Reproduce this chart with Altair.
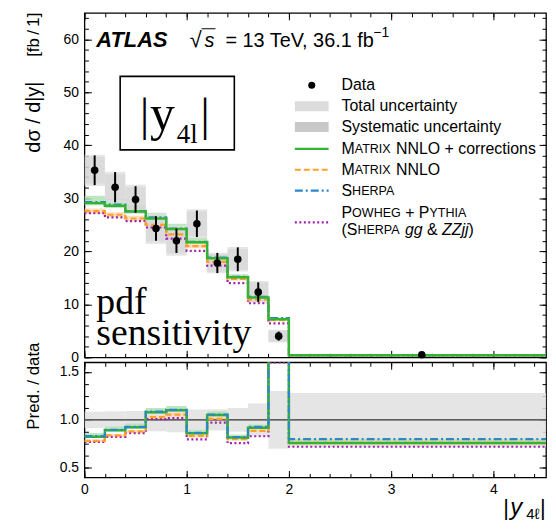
import altair as alt
import pandas as pd

SANS = "Liberation Sans, Arial, Helvetica, sans-serif"
SERIF = "Liberation Serif, Times New Roman, serif"

# ---------------- data ----------------
bin_lo = [0.0, 0.2, 0.4, 0.6, 0.8, 1.0, 1.2, 1.4, 1.6, 1.8, 2.0]
bin_hi = [0.2, 0.4, 0.6, 0.8, 1.0, 1.2, 1.4, 1.6, 1.8, 2.0, 4.6]
data_val = [35.3, 32.1, 29.8, 24.3, 22.0, 25.2, 17.8, 18.5, 12.3, 4.0, 0.5]
data_err = [2.8, 2.85, 2.5, 2.3, 2.3, 2.5, 1.9, 2.25, 1.85, 0.85, 0.08]
data_tot = [2.95, 2.9, 2.75, 2.9, 2.85, 2.75, 1.95, 2.3, 2.1, 1.2, 0.14]
data_syst = [2.5, 2.45, 2.3, 2.45, 2.4, 2.3, 1.65, 1.95, 1.8, 1.0, 0.12]
matrix_corr = [29.1, 28.6, 27.5, 26.2, 24.2, 21.7, 18.7, 15.1, 11.3, 7.2, 0.38]
matrix_corr_up = [30.5, 29.9, 28.7, 27.3, 25.2, 22.6, 19.4, 15.7, 11.7, 7.5, 0.40]
matrix_corr_dn = [28.7, 28.2, 27.1, 25.8, 23.9, 21.4, 18.4, 14.9, 11.1, 7.1, 0.37]
matrix_nnlo = [27.6, 26.9, 26.2, 25.0, 23.2, 21.0, 18.0, 14.8, 10.9, 7.0, 0.38]
matrix_nnlo_up = [28.1, 27.4, 26.7, 25.5, 23.7, 21.4, 18.4, 15.1, 11.1, 7.1, 0.39]
matrix_nnlo_dn = [27.1, 26.4, 25.7, 24.5, 22.7, 20.6, 17.6, 14.5, 10.7, 6.9, 0.37]
sherpa = [29.3, 28.8, 27.6, 26.4, 24.3, 21.8, 18.8, 15.2, 11.4, 7.4, 0.40]
powheg = [27.2, 26.4, 25.7, 24.5, 22.4, 20.1, 17.3, 14.0, 10.2, 6.4, 0.36]

x_major = [0, 1, 2, 3, 4]
x_minor = [round(0.2 * i, 1) for i in range(23)]
y1_major = [0, 10, 20, 30, 40, 50, 60]
y1_minor = [2 * i for i in range(33)]
y2_major = [0.5, 1.0, 1.5]
y2_minor = [0.5 + 0.125 * i for i in range(9)]

# ---------------- tables ----------------
bins = pd.DataFrame({"lo": bin_lo, "hi": bin_hi, "d": data_val})
bins["c"] = (bins.lo + bins.hi) / 2
bins["e_lo"] = bins.d - pd.Series(data_err)
bins["e_hi"] = bins.d + pd.Series(data_err)
bins["t_lo"] = bins.d - pd.Series(data_tot)
bins["t_hi"] = bins.d + pd.Series(data_tot)
bins["s_lo"] = bins.d - pd.Series(data_syst)
bins["s_hi"] = bins.d + pd.Series(data_syst)
bins["g_up"] = matrix_corr_up
bins["g_dn"] = matrix_corr_dn
bins["o_up"] = matrix_nnlo_up
bins["o_dn"] = matrix_nnlo_dn
bins["rt_lo"] = 1 - pd.Series(data_tot) / bins.d
bins["rt_hi"] = 1 + pd.Series(data_tot) / bins.d
bins["rg_up"] = bins.g_up / bins.d
bins["rg_dn"] = bins.g_dn / bins.d
bins["ro_up"] = bins.o_up / bins.d
bins["ro_dn"] = bins.o_dn / bins.d

edges = bin_lo + [bin_hi[-1]]


def step_df(vals, ratio=False):
    v = [a / b for a, b in zip(vals, data_val)] if ratio else list(vals)
    return pd.DataFrame({"x": edges, "v": v + [v[-1]]})


GREEN = "#33b233"
ORANGE = "#ff9f2e"
BLUE = "#2a88c8"
PURPLE = "#a020b0"
GBAND = "#b3e0b3"
OBAND = "#ffd9b0"

W, H1, H2 = 465, 347, 116
xs = alt.Scale(domain=[0, 4.515], nice=False, zero=False)
y1s = alt.Scale(domain=[0, 65], nice=False, zero=False)
y2s = alt.Scale(domain=[0.4, 1.6], nice=False, zero=False)


def axis(orient, vals, size, labels=False, fmt="d", pad=5):
    kw = dict(orient=orient, values=vals, tickSize=size, offset=-size, domain=False,
              grid=False, labels=labels, ticks=True, tickColor="black", tickWidth=1,
              title=None, minExtent=0)
    if labels:
        kw.update(labelFont=SANS, labelFontSize=14, labelColor="black",
                  labelPadding=pad, labelFlush=False, labelOverlap=False, format=fmt)
    return alt.Axis(**kw)


def rect(df, y, y2, color, opacity, ys, xaxis=None, yaxis=None):
    return alt.Chart(df).mark_rect(color=color, opacity=opacity, clip=True).encode(
        x=alt.X("lo:Q", scale=xs, axis=xaxis), x2="hi:Q",
        y=alt.Y(f"{y}:Q", scale=ys, axis=yaxis), y2=f"{y2}:Q")


def step(vals, color, width, dash, ys, ratio=False):
    m = dict(interpolate="step-after", color=color, strokeWidth=width, clip=True)
    if dash:
        m["strokeDash"] = dash
    return alt.Chart(step_df(vals, ratio)).mark_line(**m).encode(
        x=alt.X("x:Q", scale=xs, axis=None),
        y=alt.Y("v:Q", scale=ys, axis=None))


ONE = alt.Data(values=[{}])


def txt(s, x, y, size=15, font=SANS, style="normal", weight="normal",
        align="left", baseline="alphabetic", angle=0):
    return alt.Chart(ONE).mark_text(text=s, font=font, fontSize=size, fontStyle=style,
                                    fontWeight=weight, align=align, baseline=baseline,
                                    angle=angle, color="black").encode(
        x=alt.value(x), y=alt.value(y))


# Arial / Liberation Sans advance widths (per em) for laying out small caps runs
AW = {" ": .278, "(": .333, ")": .333, "&": .667, "+": .584, "A": .667,
      "E": .667, "G": .778, "H": .722, "I": .278, "L": .556, "M": .833, "N": .722,
      "O": .778, "P": .667, "R": .722, "S": .667, "T": .611, "W": .944, "X": .667,
      "Y": .667, "Z": .611, "g": .556, "j": .222, "c": .5, "o": .556, "r": .333,
      "e": .556, "t": .278, "i": .222, "n": .556, "s": .5}


def run(segments, x, y):
    """segments: list of (text, size, style); laid out left to right."""
    out = []
    for s, size, style in segments:
        lead = len(s) - len(s.lstrip(" "))
        x += lead * AW[" "] * size
        core = s.strip(" ")
        if core:
            out.append(txt(core, x, y, size=size, style=style, baseline="middle"))
        x += sum(AW.get(ch, .556) for ch in s.lstrip(" ")) * size
    return out


def hline(x1, x2, y, color, width, dash=None):
    m = dict(color=color, strokeWidth=width)
    if dash:
        m["strokeDash"] = dash
    return alt.Chart(ONE).mark_rule(**m).encode(
        x=alt.value(x1), x2=alt.value(x2), y=alt.value(y))


def box(x1, x2, y1, y2, color, opacity):
    return alt.Chart(ONE).mark_rect(color=color, opacity=opacity).encode(
        x=alt.value(x1), x2=alt.value(x2), y=alt.value(y1), y2=alt.value(y2))


F, SC = 16, 12.6
LX = 259
legend = [
    alt.Chart(ONE).mark_circle(color="black", size=50, opacity=1).encode(
        x=alt.value(229), y=alt.value(73)),
    txt("Data", LX, 73, size=F, baseline="middle"),
    box(212, 246, 89, 99, "#dcdcdc", 1),
    txt("Total uncertainty", LX, 94, size=F, baseline="middle"),
    box(212, 246, 110, 120, "#c8c8c8", 1),
    txt("Systematic uncertainty", LX, 115, size=F, baseline="middle"),
    hline(212, 246, 137, GREEN, 2.5),
    hline(212, 246, 158, ORANGE, 2.2, [6, 3]),
    hline(212, 246, 179, BLUE, 2.2, [8, 3, 2, 3]),
    hline(212, 246, 211, PURPLE, 2.2, [2, 2.5]),
]
legend += run([("M", F, "normal"), ("ATRIX", SC, "normal"),
               (" NNLO + corrections", F, "normal")], LX, 137)
legend += run([("M", F, "normal"), ("ATRIX", SC, "normal"),
               (" NNLO", F, "normal")], LX, 158)
legend += run([("S", F, "normal"), ("HERPA", SC, "normal")], LX, 179)
legend += run([("P", F, "normal"), ("OWHEG", SC, "normal"), (" + P", F, "normal"),
               ("YTHIA", SC, "normal")], LX, 202)
legend += run([("(S", F, "normal"), ("HERPA", SC, "normal"), (" ", F, "normal"),
               ("gg", F, "italic"), (" & ", F, "normal"), ("ZZjj", F, "italic"),
               (")", F, "normal")], LX, 219)

# ---------------- top panel ----------------
top_layers = [
    rect(bins, "g_dn", "g_up", GBAND, 0.85, y1s,
         axis("bottom", x_major, 7), axis("left", y1_major, 7, labels=True, pad=6)),
    rect(bins, "o_dn", "o_up", OBAND, 0.85, y1s,
         axis("bottom", x_minor, 4), axis("left", y1_minor, 4)),
    rect(bins, "t_lo", "t_hi", "#e0e0e0", 0.8, y1s,
         axis("top", x_major, 7), axis("right", y1_major, 7)),
    rect(bins, "s_lo", "s_hi", "#c4c4c4", 0.3, y1s,
         axis("top", x_minor, 4), axis("right", y1_minor, 4)),
    step(powheg, PURPLE, 2.2, [2, 2.5], y1s),
    step(matrix_nnlo, ORANGE, 2.2, [6, 3], y1s),
    step(sherpa, BLUE, 2.2, [8, 3, 2, 3], y1s),
    step(matrix_corr, GREEN, 2.5, None, y1s),
    alt.Chart(bins).mark_rule(color="black", strokeWidth=2).encode(
        x=alt.X("c:Q", scale=xs, axis=None),
        y=alt.Y("e_lo:Q", scale=y1s, axis=None), y2="e_hi:Q"),
    alt.Chart(bins).mark_circle(color="black", size=58, opacity=1).encode(
        x=alt.X("c:Q", scale=xs, axis=None),
        y=alt.Y("d:Q", scale=y1s, axis=None)),
    # header
    txt("ATLAS", 12, 34, size=22, style="italic", weight="bold"),
    txt("\u221a", 106, 34, size=22),
    txt("s", 121, 34, size=20, style="italic"),
    hline(118, 132, 16, "black", 1),
    txt("= 13 TeV, 36.1 fb", 142, 34, size=20),
    txt("\u22121", 291, 24, size=14),
    # |y4l| box
    alt.Chart(ONE).mark_rect(fillOpacity=0, stroke="black", strokeWidth=1.6).encode(
        x=alt.value(36), x2=alt.value(151), y=alt.value(64), y2=alt.value(138)),
    txt("|", 56, 118, size=46, font=SERIF),
    txt("y", 66, 118, size=50, font=SERIF),
    txt("4l", 93, 131, size=27, font=SERIF),
    txt("|", 117, 118, size=46, font=SERIF),
    # pdf sensitivity
    txt("pdf", 12, 303, size=38, font=SERIF),
    txt("sensitivity", 12, 334.5, size=38, font=SERIF),
    # y titles
    txt("d\u03c3 / d|y|", -51, 105, size=20, align="center", baseline="middle", angle=270),
    txt("[fb\u2009/\u20091]", -51, 22, size=17, align="center", baseline="middle", angle=270),
] + legend
top = alt.layer(*top_layers).resolve_axis(x="independent", y="independent").properties(
    width=W, height=H1)

# ---------------- ratio panel ----------------
unity = pd.DataFrame({"a": [0.0], "b": [4.6], "y": [1.0]})
bot_layers = [
    rect(bins, "rt_lo", "rt_hi", "#e0e0e0", 0.85, y2s,
         axis("bottom", x_major, 7, labels=True, pad=5),
         axis("left", y2_major, 7, labels=True, fmt=".1f", pad=6)),
    rect(bins, "rg_dn", "rg_up", GBAND, 0.8, y2s,
         axis("bottom", x_minor, 4), axis("left", y2_minor, 4)),
    rect(bins, "ro_dn", "ro_up", OBAND, 0.8, y2s,
         axis("top", x_major, 7), axis("right", y2_major, 7)),
    alt.Chart(unity).mark_rule(color="#333333", strokeWidth=1.2, clip=True).encode(
        x=alt.X("a:Q", scale=xs, axis=axis("top", x_minor, 4)), x2="b:Q",
        y=alt.Y("y:Q", scale=y2s, axis=axis("right", y2_minor, 4))),
    step(powheg, PURPLE, 2.2, [2, 2.5], y2s, ratio=True),
    step(matrix_nnlo, ORANGE, 2.2, [6, 3], y2s, ratio=True),
    step(matrix_corr, GREEN, 2.5, None, y2s, ratio=True),
    step(sherpa, BLUE, 2.2, [8, 3, 2, 3], y2s, ratio=True),
    txt("Pred. / data", -51, 24, size=17, align="center", baseline="middle", angle=270),
    txt("|", 422, 154, size=22),
    txt("y", 429, 154, size=24, style="italic"),
    txt("4\u2113", 445, 158, size=15),
    txt("|", 459, 154, size=22),
]
bottom = alt.layer(*bot_layers).resolve_axis(x="independent", y="independent").properties(
    width=W, height=H2)

chart = alt.vconcat(top, bottom, spacing=5, bounds="flush").configure_view(
    stroke="black", strokeWidth=1.3).properties(
    padding={"left": 15, "top": 1, "right": 0, "bottom": 0})

chart.save("out.html", embed_options={"renderer": "svg", "actions": False})
